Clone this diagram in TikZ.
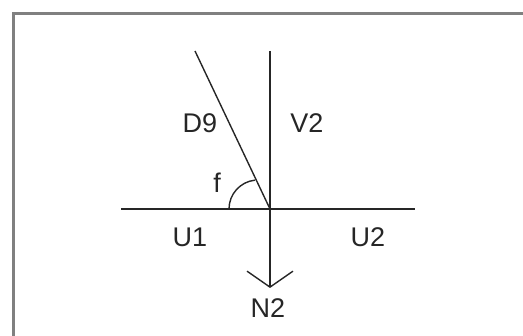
\documentclass[tikz,border=0pt]{standalone}
\usepackage{fontspec}
\setmainfont{Liberation Sans}
\usetikzlibrary{arrows.meta}
\tikzset{
  member/.style={line width=1.4pt, black!85},
  lbl/.style={anchor=base, inner sep=0pt, font=\fontsize{27}{30}\selectfont, text=black!85},
}
\begin{document}
\begin{tikzpicture}[x=1pt,y=-1pt]
    \useasboundingbox (0,0) rectangle (523,336);
    % frame
    \draw[gray, line width=3pt] (13.5,340) -- (13.5,13.5) -- (530,13.5);

    % joint and member ends
    \coordinate (O) at (270,209);
    \coordinate (V) at (270,51);
    \coordinate (D) at (195,51);
    \coordinate (L) at (121,209);
    \coordinate (R) at (415,209);
    \coordinate (N) at (270,288);

    % members
    \draw[member] (L) -- (R);
    \draw[member] (D) -- (O);
    \draw[member, -{Straight Barb[length=16pt,width=46pt,line width=1.4pt]}] (V) -- (N);

    % angle between D9 and U1
    \draw[member] (229,209) arc[start angle=180, end angle=264, radius=29];

    % labels
    \node[lbl] (d9) at (200,133) {D9};
    \node[lbl] (v2) at (307,133) {V2};
    \node[lbl] (f) at (217,193) {f};
    \node[lbl] (u1) at (190,247) {U1};
    \node[lbl] (u2) at (368,247) {U2};
    \node[lbl] (n2) at (268,318) {N2};
\end{tikzpicture}
\end{document}
